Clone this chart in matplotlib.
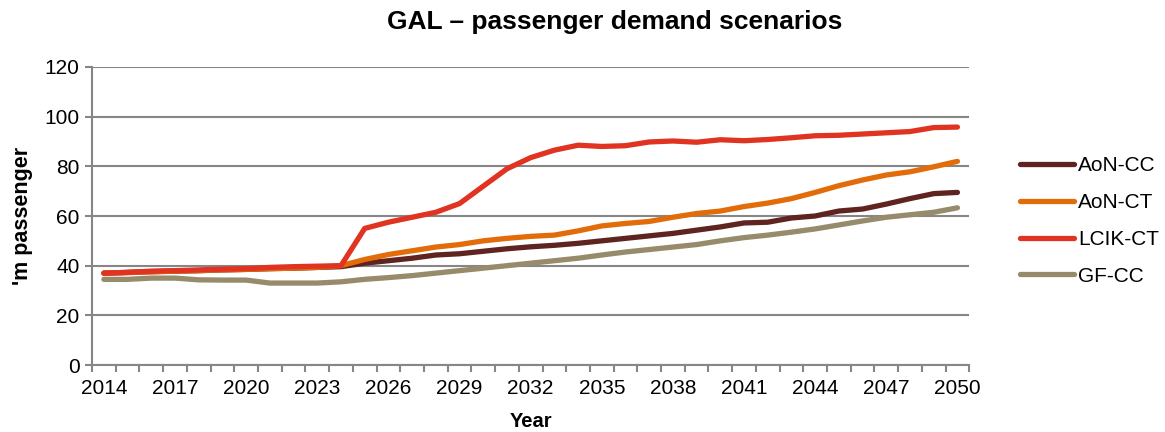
import numpy as np
import matplotlib
matplotlib.use("Agg")
import matplotlib.pyplot as plt
from matplotlib.ticker import FixedLocator

plt.rcParams['font.family'] = ['Liberation Sans', 'DejaVu Sans']

years = list(range(2014, 2051))

aon_cc = [37, 37.3, 37.6, 37.8, 38, 38.3, 38.5, 38.8, 39, 39.3, 39.6, 41, 42, 43, 44.3, 44.8,
          45.8, 46.8, 47.6, 48.2, 49, 50, 51, 52, 53, 54.3, 55.6, 57.2, 57.5, 59.2, 60,
          62, 62.8, 64.8, 67, 69, 69.5]
aon_ct = [37, 37.2, 37.5, 37.8, 38, 38.3, 38.5, 38.8, 39, 39.3, 40, 42.5, 44.5, 46, 47.5, 48.5,
          50, 51, 51.8, 52.3, 54, 56, 57, 57.8, 59.5, 61, 62, 63.8, 65.2, 67, 69.5,
          72.2, 74.5, 76.5, 77.8, 79.8, 82]
lcik_ct = [37, 37.3, 37.8, 38, 38.3, 38.6, 38.8, 39.3, 39.6, 39.8, 40, 55, 57.5, 59.5, 61.5, 65,
           72, 79, 83.5, 86.5, 88.5, 88, 88.3, 89.8, 90.2, 89.7, 90.7, 90.3, 90.8, 91.5, 92.3,
           92.5, 93, 93.5, 94, 95.6, 95.8]
gf_cc = [34.5, 34.5, 35, 35, 34.3, 34.2, 34.2, 33, 33, 33, 33.5, 34.5, 35.2, 36, 37, 38,
         39, 40, 41, 42, 43, 44.3, 45.5, 46.5, 47.5, 48.5, 50, 51.3, 52.3, 53.5, 54.8,
         56.4, 58, 59.5, 60.5, 61.5, 63.3]

series = [("AoN-CC", aon_cc, "#5f2320"),
          ("AoN-CT", aon_ct, "#e36c0a"),
          ("LCIK-CT", lcik_ct, "#e03322"),
          ("GF-CC", gf_cc, "#968b6b")]

grey = "#868686"

fig = plt.figure(figsize=(11.65, 4.32), dpi=100)
ax = fig.add_axes([0.079, 0.155, 0.753, 0.69])

for name, vals, col in series:
    ax.plot(years, vals, color=col, lw=3.8, label=name, solid_capstyle="round",
            solid_joinstyle="round")

ax.set_xlim(2013.5, 2050.5)
ax.set_ylim(0, 120)
ax.set_yticks(np.arange(0, 121, 20))
ax.xaxis.set_major_locator(FixedLocator(years[::3]))
ax.xaxis.set_minor_locator(FixedLocator([y - 0.5 for y in years] + [2050.5]))
ax.tick_params(axis="x", which="major", length=0, labelsize=15, pad=10)
ax.tick_params(axis="x", which="minor", length=5, width=1.5, color=grey, direction="out")
ax.tick_params(axis="y", length=5, width=1.5, color=grey, labelsize=15, pad=4)

ax.grid(axis="y", color=grey, lw=1.5)
ax.set_axisbelow(True)
for s in ["top", "right"]:
    ax.spines[s].set_visible(False)
for s in ["left", "bottom"]:
    ax.spines[s].set_color(grey)
    ax.spines[s].set_linewidth(1.5)

fig.text(615 / 1165, 1 - 22 / 432, "GAL \u2013 passenger demand scenarios", fontsize=19,
         fontweight="bold", ha="center", va="center")
ax.set_xlabel("Year", fontsize=14.5, fontweight="bold", labelpad=10)
ax.set_ylabel("'m passenger", fontsize=15.5, fontweight="bold", labelpad=8)

ax.legend(loc="center left", bbox_to_anchor=(1020 / 1165, 1 - 221 / 432),
          bbox_transform=fig.transFigure, frameon=False, fontsize=15, borderpad=0,
          borderaxespad=0, handlelength=2.6, labelspacing=0.85, handletextpad=0.2)

fig.savefig("out.png", dpi=100)
